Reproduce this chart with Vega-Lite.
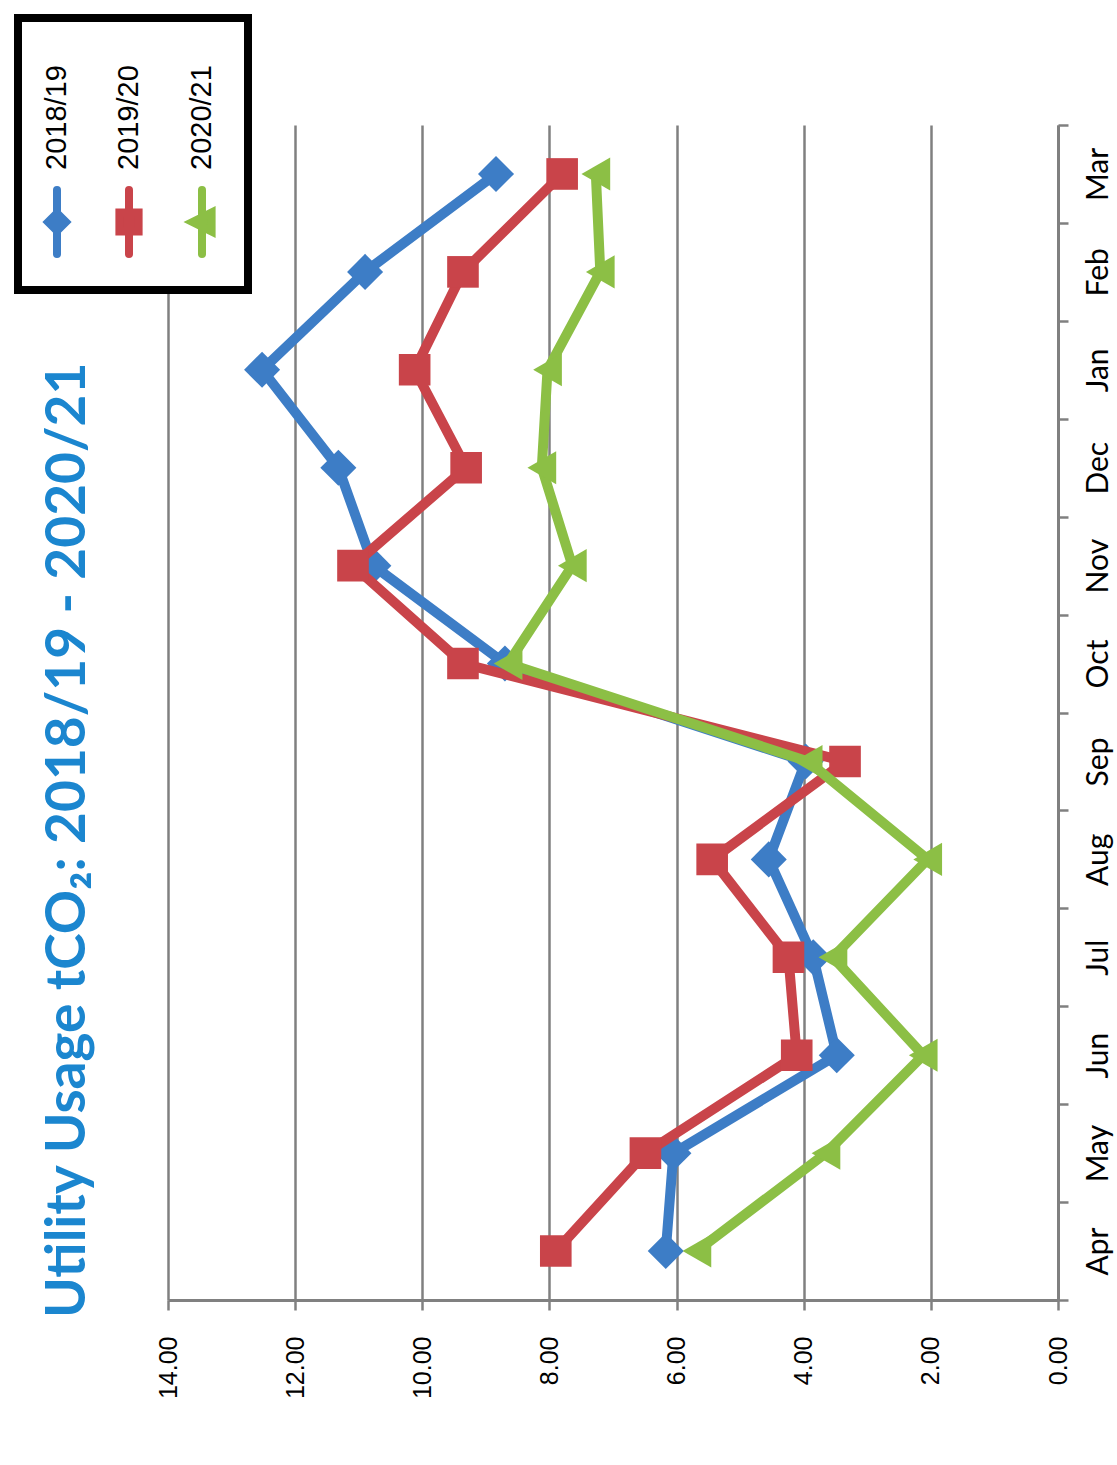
{
  "$schema": "https://vega.github.io/schema/vega-lite/v6.json",
  "width": 890,
  "height": 1175,
  "autosize": "none",
  "padding": {"left": 168, "top": 125, "right": 59, "bottom": 165},
  "background": "white",
  "title": {
    "text": "Utility Usage tCO₂: 2018/19 - 2020/21",
    "orient": "left",
    "anchor": "start",
    "frame": "group",
    "offset": -83,
    "dx": -18,
    "font": "Lato",
    "fontWeight": "bold",
    "fontSize": 55,
    "color": "#1B86CF"
  },
  "data": {
    "values": [
      {"month": "Apr", "m": 1, "series": "2018/19", "value": 6.17},
      {"month": "May", "m": 2, "series": "2018/19", "value": 6.05},
      {"month": "Jun", "m": 3, "series": "2018/19", "value": 3.48},
      {"month": "Jul", "m": 4, "series": "2018/19", "value": 3.85},
      {"month": "Aug", "m": 5, "series": "2018/19", "value": 4.55},
      {"month": "Sep", "m": 6, "series": "2018/19", "value": 3.97},
      {"month": "Oct", "m": 7, "series": "2018/19", "value": 8.70},
      {"month": "Nov", "m": 8, "series": "2018/19", "value": 10.77},
      {"month": "Dec", "m": 9, "series": "2018/19", "value": 11.32},
      {"month": "Jan", "m": 10, "series": "2018/19", "value": 12.52},
      {"month": "Feb", "m": 11, "series": "2018/19", "value": 10.90},
      {"month": "Mar", "m": 12, "series": "2018/19", "value": 8.84},
      {"month": "Apr", "m": 1, "series": "2019/20", "value": 7.90},
      {"month": "May", "m": 2, "series": "2019/20", "value": 6.49},
      {"month": "Jun", "m": 3, "series": "2019/20", "value": 4.11},
      {"month": "Jul", "m": 4, "series": "2019/20", "value": 4.24},
      {"month": "Aug", "m": 5, "series": "2019/20", "value": 5.44},
      {"month": "Sep", "m": 6, "series": "2019/20", "value": 3.35},
      {"month": "Oct", "m": 7, "series": "2019/20", "value": 9.36},
      {"month": "Nov", "m": 8, "series": "2019/20", "value": 11.09},
      {"month": "Dec", "m": 9, "series": "2019/20", "value": 9.31},
      {"month": "Jan", "m": 10, "series": "2019/20", "value": 10.12},
      {"month": "Feb", "m": 11, "series": "2019/20", "value": 9.36},
      {"month": "Mar", "m": 12, "series": "2019/20", "value": 7.80},
      {"month": "Apr", "m": 1, "series": "2020/21", "value": 5.68},
      {"month": "May", "m": 2, "series": "2020/21", "value": 3.65},
      {"month": "Jun", "m": 3, "series": "2020/21", "value": 2.12},
      {"month": "Jul", "m": 4, "series": "2020/21", "value": 3.54},
      {"month": "Aug", "m": 5, "series": "2020/21", "value": 2.05},
      {"month": "Sep", "m": 6, "series": "2020/21", "value": 3.93},
      {"month": "Oct", "m": 7, "series": "2020/21", "value": 8.65},
      {"month": "Nov", "m": 8, "series": "2020/21", "value": 7.64},
      {"month": "Dec", "m": 9, "series": "2020/21", "value": 8.12},
      {"month": "Jan", "m": 10, "series": "2020/21", "value": 8.03},
      {"month": "Feb", "m": 11, "series": "2020/21", "value": 7.20},
      {"month": "Mar", "m": 12, "series": "2020/21", "value": 7.27}
    ]
  },
  "encoding": {
    "y": {
      "field": "month",
      "type": "ordinal",
      "sort": ["Mar", "Feb", "Jan", "Dec", "Nov", "Oct", "Sep", "Aug", "Jul", "Jun", "May", "Apr"],
      "scale": {"type": "band", "paddingInner": 0, "paddingOuter": 0},
      "axis": {
        "orient": "right",
        "title": null,
        "tickBand": "extent",
        "labelAngle": -90,
        "labelAlign": "center",
        "labelBaseline": "top",
        "labelFont": "Lato",
        "labelFontSize": 30,
        "labelColor": "black",
        "labelPadding": 15,
        "domainColor": "#808080",
        "domainWidth": 3,
        "tickColor": "#808080",
        "tickWidth": 2.5,
        "tickSize": 10,
        "grid": false
      }
    },
    "x": {
      "field": "value",
      "type": "quantitative",
      "scale": {"domain": [0, 14], "reverse": true, "nice": false},
      "axis": {
        "title": null,
        "values": [0, 2, 4, 6, 8, 10, 12, 14],
        "format": ".2f",
        "labelAngle": -90,
        "labelAlign": "right",
        "labelBaseline": "middle",
        "labelFont": "Liberation Sans",
        "labelFontSize": 25,
        "labelColor": "black",
        "labelPadding": 26,
        "grid": true,
        "gridColor": "#808080",
        "gridWidth": 2.5,
        "gridOpacity": 1,
        "domainColor": "#808080",
        "domainWidth": 3,
        "tickColor": "#808080",
        "tickWidth": 2.5,
        "tickSize": 10
      }
    },
    "color": {
      "field": "series",
      "type": "nominal",
      "scale": {"domain": ["2018/19", "2019/20", "2020/21"], "range": ["#3D7DC6", "#C9444A", "#8CBF45"]},
      "legend": {
        "orient": "none",
        "legendX": -150,
        "legendY": -107,
        "direction": "horizontal",
        "columns": 3,
        "columnPadding": 21,
        "padding": 20,
        "title": null,
        "strokeColor": "black",
        "fillColor": "white",
        "labelFont": "Liberation Sans",
        "labelFontSize": 29,
        "labelColor": "black",
        "encode": {
          "legend": {"update": {"strokeWidth": {"value": 8}}},
          "symbols": {
            "update": {
              "x": {"value": 19},
              "y": {"value": 184},
              "size": {"value": 4096},
              "strokeWidth": {"value": 8},
              "strokeCap": {"value": "round"},
              "stroke": {"scale": "color", "field": "value"},
              "fill": {"scale": "color", "field": "value"},
              "opacity": {"value": 1},
              "shape": {"signal": "datum.value === '2018/19' ? 'M0,-1L0,1M-0.28,0L0,-0.28L0.28,0L0,0.28Z' : datum.value === '2019/20' ? 'M0,-1L0,1M-0.3,-0.3L0.3,-0.3L0.3,0.3L-0.3,0.3Z' : 'M0,-1L0,1M-0.3,0L0.3,-0.3L0.3,0.3Z'"}
            }
          },
          "labels": {
            "update": {
              "x": {"value": 19},
              "y": {"value": 132},
              "angle": {"value": -90},
              "align": {"value": "left"},
              "baseline": {"value": "middle"}
            }
          }
        }
      }
    }
  },
  "layer": [
    {
      "transform": [{"filter": "datum.series === '2018/19'"}],
      "mark": {"type": "line", "strokeWidth": 10, "strokeJoin": "round", "strokeCap": "round"},
      "encoding": {"order": {"field": "m", "type": "quantitative"}}
    },
    {
      "transform": [{"filter": "datum.series === '2018/19'"}],
      "mark": {"type": "point", "shape": "diamond", "filled": true, "opacity": 1, "size": 1300}
    },
    {
      "transform": [{"filter": "datum.series === '2019/20'"}],
      "mark": {"type": "line", "strokeWidth": 10, "strokeJoin": "round", "strokeCap": "round"},
      "encoding": {"order": {"field": "m", "type": "quantitative"}}
    },
    {
      "transform": [{"filter": "datum.series === '2019/20'"}],
      "mark": {"type": "point", "shape": "square", "filled": true, "opacity": 1, "size": 1000}
    },
    {
      "transform": [{"filter": "datum.series === '2020/21'"}],
      "mark": {"type": "line", "strokeWidth": 10, "strokeJoin": "round", "strokeCap": "round"},
      "encoding": {"order": {"field": "m", "type": "quantitative"}}
    },
    {
      "transform": [{"filter": "datum.series === '2020/21'"}],
      "mark": {"type": "point", "shape": "triangle-left", "filled": true, "opacity": 1, "size": 1100}
    }
  ],
  "config": {"view": {"stroke": null}}
}
